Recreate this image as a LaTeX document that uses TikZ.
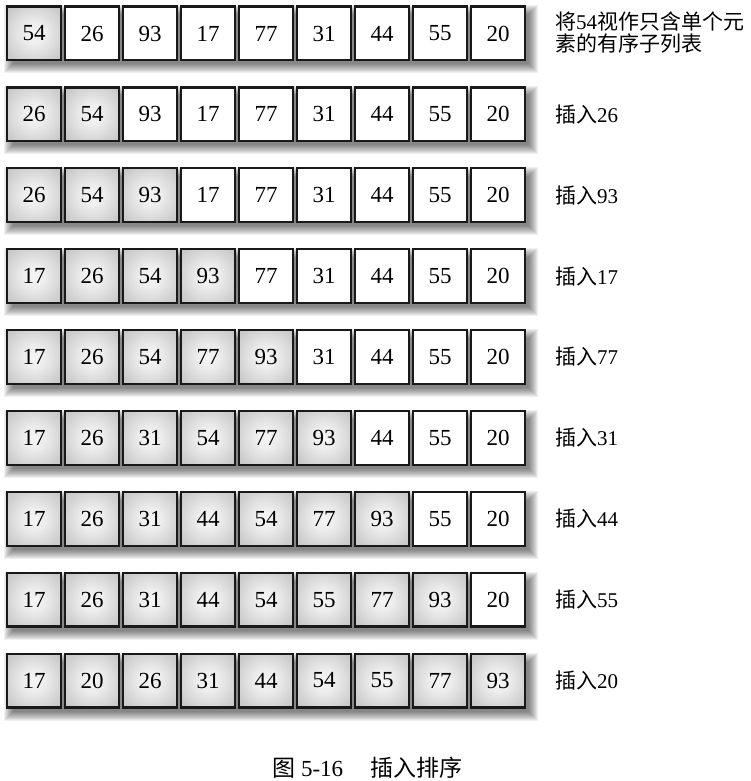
\documentclass[tikz,border=0pt]{standalone}
\usepackage{fontspec}
\setmainfont{Liberation Serif}
\newfontfamily\cjk{Noto Sans CJK SC}
\pgfdeclareradialshading{cellshade}{\pgfpoint{0bp}{0bp}}{%
  color(0bp)=(black!4); color(10bp)=(black!7); color(30bp)=(black!20);
  color(50bp)=(black!30); color(72bp)=(black!38)}
\tikzset{
  cell/.style={draw=black!90, line width=2.2pt, minimum width=53.8pt, minimum height=53.8pt,
    inner sep=0pt, font=\fontsize{23}{23}\selectfont},
  plaincell/.style={fill=white},
  filledcell/.style={shading=cellshade},
  lbl/.style={anchor=west, align=left, inner sep=0pt, font=\fontsize{21}{22}\selectfont},
}
\begin{document}
\begin{tikzpicture}[x=1pt,y=-1pt]
\fill[white] (0,0) rectangle (751,781);
\useasboundingbox (0,0) rectangle (751,781);
\foreach \row [count=\r] in {
  {54,26,93,17,77,31,44,55,20},
  {26,54,93,17,77,31,44,55,20},
  {26,54,93,17,77,31,44,55,20},
  {17,26,54,93,77,31,44,55,20},
  {17,26,54,77,93,31,44,55,20},
  {17,26,31,54,77,93,44,55,20},
  {17,26,31,44,54,77,93,55,20},
  {17,26,31,44,54,55,77,93,20},
  {17,20,26,31,44,54,55,77,93}}{
  \pgfmathsetmacro\cy{33.5+80.875*(\r-1)}
  % soft shadow under the row
  \foreach \k in {0,...,9}{
    \fill[black, opacity=0.06] (4+\k,{\cy-28+\k}) rectangle (538-\k,{\cy+40-\k});
  }
  \foreach \v [count=\c] in \row {
    \ifnum\c>\r \def\st{plaincell}\else\def\st{filledcell}\fi
    \node[cell,\st] (b-\r-\c) at ({34+58*(\c-1)},\cy) {\v};
  }
}
\node[lbl] (l1) at (555,33) {{\cjk 将}54{\cjk 视作只含单个元}\\{\cjk 素的有序子列表}};
\foreach \t [count=\r from 2] in {26,93,17,77,31,44,55,20}{
  \pgfmathsetmacro\cy{33.5+80.875*(\r-1)}
  \node[lbl] (l\r) at (555,\cy) {{\cjk 插入}\t};
}
\node[font=\fontsize{23}{23}\selectfont, inner sep=0pt] (cap) at (367.5,767.5)
  {{\cjk 图} 5-16\hspace{1.2em}{\cjk 插入排序}};
\end{tikzpicture}
\end{document}
